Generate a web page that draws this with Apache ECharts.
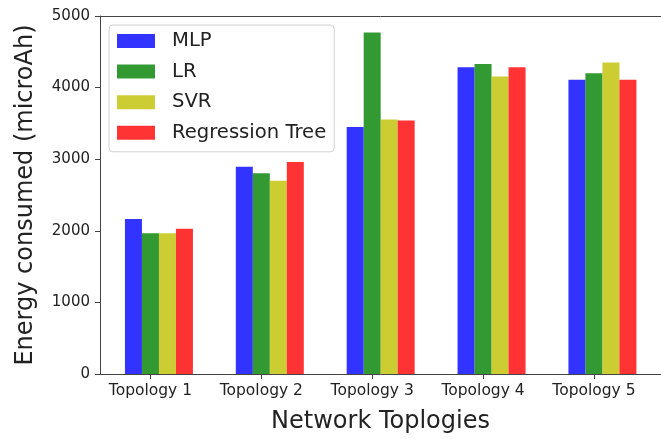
<!DOCTYPE html>
<html>
<head>
<meta charset="utf-8">
<script src="https://cdn.jsdelivr.net/npm/echarts@6/dist/echarts.min.js"></script>
<style>html,body{margin:0;padding:0;background:#fff;}#c{width:661px;height:439px;}</style>
</head>
<body>
<div id="c"></div>
<script>
var categories = ['Topology 1', 'Topology 2', 'Topology 3', 'Topology 4', 'Topology 5'];
var mlp = [2165, 2895, 3450, 4285, 4110];
var lr = [1965, 2805, 4770, 4330, 4200];
var svr = [1965, 2700, 3555, 4155, 4350];
var regTree = [2030, 2960, 3540, 4285, 4110];
var yTicks = [0, 1000, 2000, 3000, 4000, 5000];

var font = 'DejaVu Sans';
var tickIdx = categories.map(function (c, i) { return i; });
function pairs(arr) { return arr.map(function (v, i) { return [i, v]; }); }

var chart = echarts.init(document.getElementById('c'), null, {renderer: 'canvas'});
var names = ['MLP', 'LR', 'SVR', 'Regression Tree'];
var colors = ['rgba(0,0,255,0.8)', 'rgba(0,128,0,0.8)', 'rgba(191,191,0,0.8)', 'rgba(255,0,0,0.8)'];
var datas = [mlp, lr, svr, regTree];

var series = [{
  name: '_spacer', type: 'bar', barWidth: 17, barGap: '0%', silent: true,
  data: categories.map(function (c, i) { return [i, '-']; })
}];
names.forEach(function (n, k) {
  series.push({
    name: n, type: 'bar', barWidth: 17, barGap: '0%',
    itemStyle: {color: colors[k]},
    data: pairs(datas[k])
  });
});

chart.setOption({
  animation: false,
  backgroundColor: '#fff',
  grid: {left: 100, top: 16, width: 572, height: 364, containLabel: false},
  legend: {
    data: names,
    orient: 'vertical',
    left: 109, top: 25,
    itemWidth: 38, itemHeight: 14, itemGap: 10.6,
    icon: 'rect',
    padding: [6, 8, 9, 8],
    borderColor: '#d0d0d0', borderWidth: 1, borderRadius: 4,
    backgroundColor: 'rgba(255,255,255,0.8)',
    textStyle: {fontFamily: font, fontSize: 19.6, color: '#222', lineHeight: 20, padding: [0, 0, 0, 12]}
  },
  xAxis: [{
    type: 'value', min: -0.455, max: 4.605,
    name: 'Network Toplogies', nameLocation: 'middle', nameGap: 36,
    nameTextStyle: {fontFamily: font, fontSize: 24, color: '#222'},
    axisLine: {show: true, onZero: false, lineStyle: {color: '#444', width: 1}},
    axisTick: {show: true, length: 5, customValues: tickIdx, lineStyle: {color: '#444'}},
    axisLabel: {customValues: tickIdx, margin: 9, fontFamily: font, fontSize: 15.5, color: '#222',
      formatter: function (v) { return categories[Math.round(v)]; }},
    splitLine: {show: false}
  }, {
    type: 'value', position: 'top', min: -0.455, max: 4.605,
    axisLine: {show: true, onZero: false, lineStyle: {color: '#444', width: 1}},
    axisTick: {show: false}, axisLabel: {show: false}, splitLine: {show: false}
  }],
  yAxis: {
    type: 'value', min: 0, max: 5000, interval: 1000,
    name: 'Energy consumed (microAh)', nameLocation: 'middle', nameGap: 62,
    nameTextStyle: {fontFamily: font, fontSize: 24, color: '#222'},
    axisLine: {show: true, onZero: false, lineStyle: {color: '#444', width: 1}},
    axisTick: {show: true, length: 5, lineStyle: {color: '#444'}},
    axisLabel: {margin: 10, fontFamily: font, fontSize: 15, color: '#222',
      formatter: function (v) { return yTicks.indexOf(v) >= 0 ? String(v) : ''; }},
    splitLine: {show: false}
  },
  series: series
});
</script>
</body>
</html>
